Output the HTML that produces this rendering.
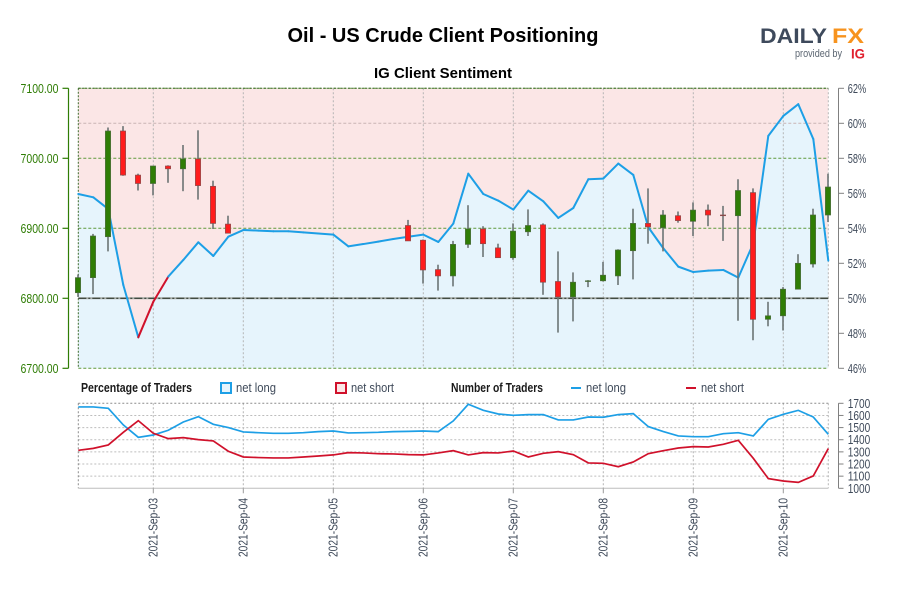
<!DOCTYPE html>
<html lang="en">
<head>
<meta charset="utf-8">
<title>Oil - US Crude Client Positioning</title>
<style>
html,body{margin:0;padding:0;background:#fff;width:900px;height:600px;overflow:hidden}
svg{display:block;font-family:"Liberation Sans",sans-serif}
</style>
</head>
<body>
<svg id="chart" xmlns="http://www.w3.org/2000/svg" width="900" height="600" viewBox="0 0 900 600">
  <text x="443" y="42" text-anchor="middle" font-size="20.5" font-weight="bold" fill="#000" textLength="311" lengthAdjust="spacingAndGlyphs">Oil - US Crude Client Positioning</text>
  <text x="443" y="78" text-anchor="middle" font-size="15" font-weight="bold" fill="#000" textLength="138" lengthAdjust="spacingAndGlyphs">IG Client Sentiment</text>

  <g>
    <text x="760" y="43" font-size="21" font-weight="bold" fill="#3e4a5c" textLength="67" lengthAdjust="spacingAndGlyphs">DAILY</text>
    <text x="832" y="43" font-size="21" font-weight="bold" fill="#f7931e" textLength="32" lengthAdjust="spacingAndGlyphs">FX</text>
    <text x="795" y="57" font-size="11" fill="#5c6672" textLength="47" lengthAdjust="spacingAndGlyphs">provided by</text>
    <text x="851" y="58.5" font-size="14" font-weight="bold" fill="#e0202e" textLength="14" lengthAdjust="spacingAndGlyphs">IG</text>
  </g>

  <g id="price-pane"></g>
  <g id="count-pane"></g>

  <g>
    <text x="81" y="392" font-size="13" font-weight="bold" fill="#1a1a1a" textLength="111" lengthAdjust="spacingAndGlyphs">Percentage of Traders</text>
    <rect x="221" y="383" width="10" height="10" fill="#e6f4fc" stroke="#1d9fe6" stroke-width="2"/>
    <text x="236" y="392" font-size="13" fill="#3f4a5a" textLength="40" lengthAdjust="spacingAndGlyphs">net long</text>
    <rect x="336" y="383" width="10" height="10" fill="#fbe6e6" stroke="#d0112b" stroke-width="2"/>
    <text x="351" y="392" font-size="13" fill="#3f4a5a" textLength="43" lengthAdjust="spacingAndGlyphs">net short</text>
    <text x="451" y="392" font-size="13" font-weight="bold" fill="#1a1a1a" textLength="92" lengthAdjust="spacingAndGlyphs">Number of Traders</text>
    <rect x="571" y="387" width="10" height="2" fill="#1d9fe6"/>
    <text x="586" y="392" font-size="13" fill="#3f4a5a" textLength="40" lengthAdjust="spacingAndGlyphs">net long</text>
    <rect x="686" y="387" width="10" height="2" fill="#d0112b"/>
    <text x="701" y="392" font-size="13" fill="#3f4a5a" textLength="43" lengthAdjust="spacingAndGlyphs">net short</text>
  </g>
</svg>
<script>
const priceTicks = [6700, 6800, 6900, 7000, 7100];
const pctTicks = [46, 48, 50, 52, 54, 56, 58, 60, 62];
const countTicks = [1000, 1100, 1200, 1300, 1400, 1500, 1600, 1700];
const dateLabels = ['2021-Sep-03', '2021-Sep-04', '2021-Sep-05', '2021-Sep-06', '2021-Sep-07', '2021-Sep-08', '2021-Sep-09', '2021-Sep-10'];
const dateIndexes = [5, 11, 17, 23, 29, 35, 41, 47];

const opens = [6808, 6829.5, 6888, 7039, 6976, 6964, 6989, 6985, 6999, 6960, 6906,
  null, null, null, null, null, null, null, null, null, null, null,
  6904, 6883, 6841, 6832, 6877, 6899, 6872, 6858, 6895, 6905, 6824, 6802, 6824, 6825, 6832, 6868, 6907, 6901, 6918, 6910, 6926, 6919, 6918, 6951, 6770, 6775, 6813, 6849, 6919];
const closes = [6829.5, 6889, 7039, 6976, 6964, 6989, 6985, 6999, 6961, 6907, 6893,
  null, null, null, null, null, null, null, null, null, null, null,
  6882, 6840.5, 6832, 6877, 6899, 6878, 6858, 6896, 6904, 6823, 6802, 6823, 6825, 6833, 6869, 6907, 6902, 6919, 6911, 6926, 6919, 6918, 6954, 6770, 6775, 6813, 6850, 6919, 6959];
const highs = [6834, 6892, 7044, 7046, 6978, 6989, 6990, 7019, 7040, 6968, 6918,
  null, null, null, null, null, null, null, null, null, null, null,
  6912, 6884, 6848, 6882, 6933, 6903, 6878, 6907, 6927, 6907, 6867, 6837, 6826, 6852, 6870, 6928, 6957, 6926, 6924, 6937, 6934, 6932, 6970, 6957, 6795, 6816, 6863, 6928, 6978];
const lows = [6802, 6806, 6867, 6975, 6954, 6947, 6965, 6953, 6941, 6899, 6893,
  null, null, null, null, null, null, null, null, null, null, null,
  6882, 6821, 6811, 6817, 6872, 6859, 6858, 6855, 6889, 6805, 6751, 6767, 6816, 6824, 6819, 6827, 6878, 6867, 6908, 6889, 6903, 6882, 6768, 6740, 6760, 6754, 6813, 6844, 6909];

const netLongPct = [55.96, 55.77, 55.1, 50.76, 47.77, 49.8, 51.24, 52.19, 53.2, 52.42, 53.52,
  53.9, 53.87, 53.83, 53.83, 53.77, 53.7, 53.64, 52.97, 53.1, 53.24, 53.39, 53.52,
  53.64, 53.22, 54.27, 57.12, 55.96, 55.58, 55.07, 56.15, 55.54, 54.59, 55.16, 56.8,
  56.84, 57.7, 57.05, 54.06, 52.86, 51.81, 51.5, 51.58, 51.62, 51.18, 53.14, 59.28, 60.42, 61.09, 59.1, 52.15];

const netLongCount = [1670, 1670, 1659, 1522, 1420, 1439, 1478, 1546, 1590, 1527, 1500,
  1464, 1458, 1453, 1453, 1458, 1467, 1472, 1456, 1458, 1461, 1467, 1469,
  1472, 1467, 1555, 1692, 1642, 1612, 1601, 1607, 1607, 1563, 1563, 1587,
  1585, 1607, 1615, 1508, 1467, 1431, 1425, 1425, 1450, 1458, 1431, 1568, 1609, 1642, 1587, 1445];
const netShortCount = [1313, 1329, 1357, 1461, 1557, 1453, 1409, 1417, 1401, 1390, 1305,
  1258, 1253, 1250, 1250, 1258, 1266, 1275, 1294, 1291, 1285, 1283, 1277,
  1275, 1291, 1310, 1275, 1294, 1291, 1307, 1258, 1288, 1302, 1277, 1209,
  1206, 1178, 1217, 1285, 1310, 1332, 1343, 1340, 1362, 1395, 1247, 1080, 1060, 1049, 1102, 1327];

const NS = 'http://www.w3.org/2000/svg';
const LEFT = 78.3, RIGHT = 828.3, TOP = 88.3, BOTTOM = 368.3, LOW_TOP = 403.3, LOW_BOTTOM = 488.3;
const step = (RIGHT - LEFT) / (netLongPct.length - 1);
const xScale = i => LEFT + step * i;
const yPrice = v => BOTTOM - (v - 6700) / 400 * (BOTTOM - TOP);
const yPct = v => BOTTOM - (v - 46) / 16 * (BOTTOM - TOP);
const yCount = v => LOW_BOTTOM - (v - 1000) / 700 * (LOW_BOTTOM - LOW_TOP);

const pricePane = document.getElementById('price-pane');
const countPane = document.getElementById('count-pane');

function make(parent, tag, attrs, content) {
  const el = document.createElementNS(NS, tag);
  for (const k in attrs) el.setAttribute(k, attrs[k]);
  if (content !== undefined) el.textContent = content;
  parent.appendChild(el);
  return el;
}
function pts(values, yFn) {
  return values.map((v, i) => xScale(i).toFixed(2) + ',' + yFn(v).toFixed(2)).join(' ');
}

/* backgrounds */
let el = make(pricePane, 'rect', {x: LEFT, y: TOP, width: RIGHT - LEFT, height: BOTTOM - TOP, fill: '#fbe6e6'});


el = make(pricePane, 'polygon', {points: LEFT + ',' + BOTTOM + ' ' + pts(netLongPct, yPct) + ' ' + RIGHT + ',' + BOTTOM, fill: '#e6f4fc'});



/* horizontal price grid */
priceTicks.forEach(t => {
  if (t === 6800) return;
  const line = make(pricePane, 'line', {x1: LEFT, x2: RIGHT, y1: yPrice(t), y2: yPrice(t), stroke: '#5f9a3c', 'stroke-width': 1, 'stroke-dasharray': '3 2'});
  
  
});
el = make(pricePane, 'line', {x1: LEFT, x2: RIGHT, y1: yPct(60), y2: yPct(60), stroke: '#c9b4b4', 'stroke-width': 1, 'stroke-dasharray': '3 2'});



/* vertical date grid, both panes */
dateIndexes.forEach(i => {
  const x = xScale(i);
  const v = make(pricePane, 'line', {x1: x, x2: x, y1: TOP, y2: BOTTOM, stroke: '#b5b5b5', 'stroke-width': 1, 'stroke-dasharray': '2 2'});
  
  
  const w = make(countPane, 'line', {x1: x, x2: x, y1: LOW_TOP, y2: LOW_BOTTOM, stroke: '#b5b5b5', 'stroke-width': 1, 'stroke-dasharray': '2 2'});
  
  
});

/* frame */
el = make(pricePane, 'line', {x1: LEFT, x2: LEFT, y1: TOP, y2: BOTTOM, stroke: '#3d6b2a', 'stroke-width': 1, 'stroke-dasharray': '2 1.5'});


el = make(pricePane, 'line', {x1: RIGHT, x2: RIGHT, y1: TOP, y2: BOTTOM, stroke: '#b5b5b5', 'stroke-width': 1, 'stroke-dasharray': '2 2'});


el = make(pricePane, 'line', {x1: LEFT, x2: RIGHT, y1: TOP, y2: TOP, stroke: '#3d6b2a', 'stroke-width': 1, 'stroke-dasharray': '2 1.5'});



/* 50% reference line */
el = make(pricePane, 'line', {x1: LEFT, x2: RIGHT, y1: yPct(50), y2: yPct(50), stroke: '#a9aea9', 'stroke-width': 2});


el = make(pricePane, 'line', {x1: LEFT, x2: RIGHT, y1: yPct(50), y2: yPct(50), stroke: '#1f2a1f', 'stroke-width': 1, 'stroke-dasharray': '8 2 2 2'});



/* sentiment line: segment takes red when its start point is under 50% */
netLongPct.forEach((v, i) => {
  if (i === netLongPct.length - 1) return;
  const seg = make(pricePane, 'line', {x1: xScale(i), y1: yPct(v), x2: xScale(i + 1), y2: yPct(netLongPct[i + 1]), stroke: v < 50 ? '#d0112b' : '#1d9fe6', 'stroke-width': 2, 'stroke-linecap': 'round'});
  
  
});

/* candles */
opens.forEach((o, i) => {
  if (o === null) return;
  const c = closes[i], x = xScale(i) - 0.3;
  const wick = make(pricePane, 'line', {x1: x, x2: x, y1: yPrice(highs[i]), y2: yPrice(lows[i]), stroke: '#6c7474', 'stroke-width': 1.6});
  
  
  const top = yPrice(Math.max(o, c)), bot = yPrice(Math.min(o, c));
  const up = c > o;
  const body = make(pricePane, 'rect', {x: x - 2.6, y: top, width: 5.2, height: Math.max(bot - top, 0.6), fill: up ? '#2f7d05' : '#ff1c1c', stroke: up ? '#4a6b3a' : '#8a4a4a', 'stroke-width': 0.7});
  
  
});

/* left price axis */
el = make(pricePane, 'line', {x1: 68.5, x2: 68.5, y1: TOP, y2: BOTTOM, stroke: '#2f7d05', 'stroke-width': 1.2});


priceTicks.forEach(t => {
  const y = yPrice(t);
  const tick = make(pricePane, 'line', {x1: 62.5, x2: 68.5, y1: y, y2: y, stroke: '#2f7d05', 'stroke-width': 1.2});
  
  
  const label = make(pricePane, 'text', {x: 20.5, y: y + 4.5, 'font-size': 13, fill: '#2f7d05', textLength: 38, lengthAdjust: 'spacingAndGlyphs'}, t.toFixed(2));
  
  
});

/* right percent axis */
el = make(pricePane, 'line', {x1: 838.5, x2: 838.5, y1: TOP, y2: BOTTOM, stroke: '#808080', 'stroke-width': 1});


pctTicks.forEach(t => {
  const y = yPct(t);
  const tick = make(pricePane, 'line', {x1: 838.5, x2: 844, y1: y, y2: y, stroke: '#808080', 'stroke-width': 1});
  
  
  const label = make(pricePane, 'text', {x: 847.7, y: y + 4.5, 'font-size': 13, fill: '#3f4a5a', textLength: 18.5, lengthAdjust: 'spacingAndGlyphs'}, t + '%');
  
  
});

/* lower pane grid */
countTicks.forEach(t => {
  if (t === 1000) return;
  const y = yCount(t);
  const g = make(countPane, 'line', {x1: LEFT, x2: RIGHT, y1: y, y2: y, stroke: t === 1700 ? '#8c8c8c' : '#bdbdbd', 'stroke-width': 1, 'stroke-dasharray': '2 2'});
  
  
});
el = make(countPane, 'line', {x1: LEFT, x2: LEFT, y1: LOW_TOP, y2: LOW_BOTTOM, stroke: '#8c8c8c', 'stroke-width': 1, 'stroke-dasharray': '2 2'});


el = make(countPane, 'line', {x1: RIGHT, x2: RIGHT, y1: LOW_TOP, y2: LOW_BOTTOM, stroke: '#b5b5b5', 'stroke-width': 1, 'stroke-dasharray': '2 2'});


el = make(countPane, 'line', {x1: LEFT, x2: RIGHT, y1: LOW_BOTTOM, y2: LOW_BOTTOM, stroke: '#bdbdbd', 'stroke-width': 1});



/* lower pane series */
el = make(countPane, 'polyline', {points: pts(netLongCount, yCount), fill: 'none', stroke: '#1d9fe6', 'stroke-width': 1.7});


el = make(countPane, 'polyline', {points: pts(netShortCount, yCount), fill: 'none', stroke: '#d0112b', 'stroke-width': 1.7});



/* right count axis */
el = make(countPane, 'line', {x1: 838.5, x2: 838.5, y1: LOW_TOP, y2: LOW_BOTTOM, stroke: '#808080', 'stroke-width': 1});


countTicks.forEach(t => {
  const y = yCount(t);
  const tick = make(countPane, 'line', {x1: 838.5, x2: 843.5, y1: y, y2: y, stroke: '#808080', 'stroke-width': 1});
  
  
  const label = make(countPane, 'text', {x: 847.7, y: y + 4.5, 'font-size': 13, fill: '#3f4a5a', textLength: 22.5, lengthAdjust: 'spacingAndGlyphs'}, String(t));
  
  
});

/* date axis */
dateLabels.forEach((d, k) => {
  const x = xScale(dateIndexes[k]);
  const tick = make(countPane, 'line', {x1: x, x2: x, y1: LOW_BOTTOM, y2: LOW_BOTTOM + 5, stroke: '#9a9a9a', 'stroke-width': 1});
  
  
  const label = make(countPane, 'text', {transform: 'translate(' + (x + 4.3) + ',498) rotate(-90)', x: 0, y: 0, 'text-anchor': 'end', 'font-size': 13, fill: '#3f4a5a', textLength: 59, lengthAdjust: 'spacingAndGlyphs'}, d);
  
  
});
</script>
</body>
</html>
